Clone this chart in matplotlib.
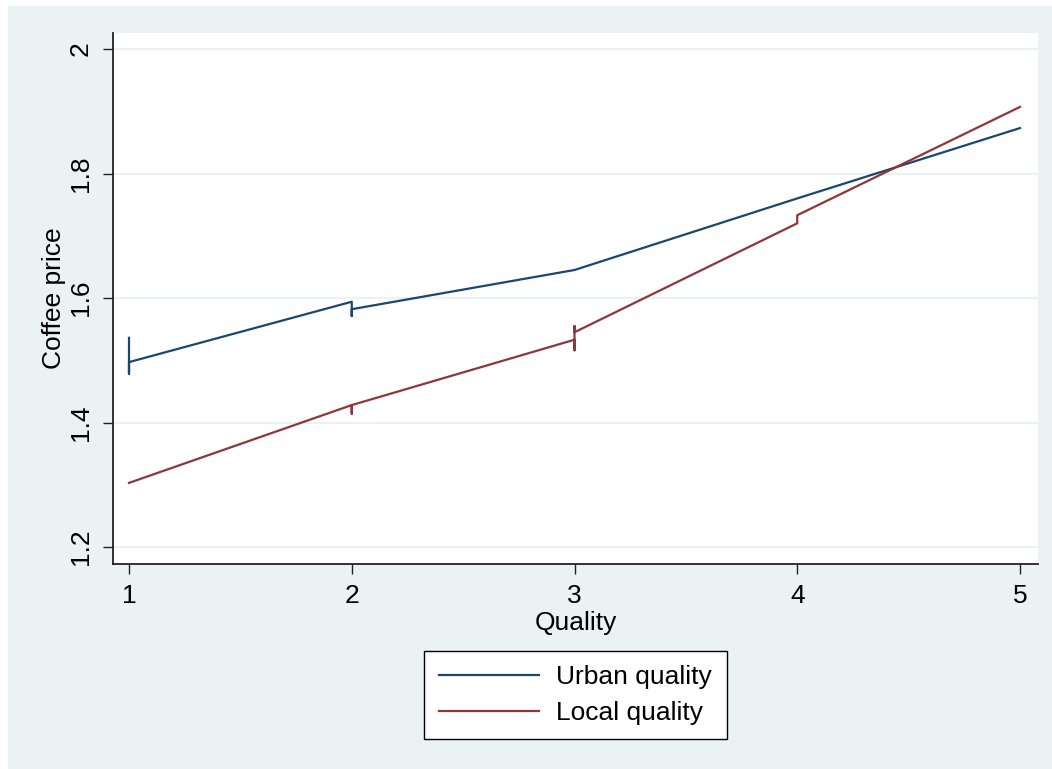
import matplotlib.pyplot as plt
from matplotlib.patches import Rectangle

plt.rcParams['font.family'] = ['Liberation Sans', 'DejaVu Sans']

## points in the order Stata connects them (several y values per quality level)
urbanX = [1, 1, 1, 2, 2, 2, 3, 4, 5]
urbanY = [1.536, 1.478, 1.497, 1.594, 1.571, 1.582, 1.645, 1.760, 1.873]
localX = [1, 2, 2, 2, 3, 3, 3, 3, 4, 4, 5]
localY = [1.303, 1.428, 1.414, 1.428, 1.533, 1.516, 1.555, 1.545, 1.720, 1.733, 1.907]

xTicks = [1, 2, 3, 4, 5]
yTicks = [1.2, 1.4, 1.6, 1.8, 2.0]
yLabels = ['1.2', '1.4', '1.6', '1.8', '2']

bg = '#eaf2f3'
navy = '#1a476f'
maroon = '#90353b'

fig = plt.figure(figsize=(10.52, 7.69), dpi=100)
fig.patch.set_facecolor('white')
fig.add_artist(Rectangle((8/1052, 1/769), 1 - 8/1052, 1 - 7/769,
                         transform=fig.transFigure, color=bg, zorder=-5))

ax = fig.add_axes([113/1052, 1 - 564/769, 925/1052, 531/769])
ax.set_zorder(1)
ax.set_facecolor('white')

for y in yTicks:
    ax.axhline(y, color=bg, linewidth=1.6, zorder=1)

ax.plot(urbanX, urbanY, color=navy, linewidth=1.6, label='Urban quality', zorder=3)
ax.plot(localX, localY, color=maroon, linewidth=1.6, label='Local quality', zorder=3)

ax.set_xlim(1 - 16/222.75, 5 + 18/222.75)
ax.set_ylim(1.2 - 17/622.5, 2 + 16/622.5)

ax.set_xticks(xTicks)
ax.set_yticks(yTicks)
ax.set_yticklabels(yLabels, rotation=90, va='center')
ax.tick_params(axis='both', labelsize=19, length=7.5, width=1, color='#222222', pad=7)

for s in ['top', 'right']:
    ax.spines[s].set_visible(False)
for s in ['left', 'bottom']:
    ax.spines[s].set_color('#222222')
    ax.spines[s].set_linewidth(1.3)

ax.set_xlabel('Quality', fontsize=19, labelpad=2)
ax.set_ylabel('Coffee price', fontsize=19, labelpad=2)

leg = ax.legend(loc='center', bbox_to_anchor=(575.5/1052, 1 - 695/769),
                bbox_transform=fig.transFigure, fontsize=19, frameon=True,
                fancybox=False, edgecolor='black', framealpha=1,
                handlelength=3.8, handletextpad=0.65, borderpad=0.55, labelspacing=0.45)
leg.get_frame().set_linewidth(1)

fig.savefig('out.png', dpi=100, facecolor=fig.get_facecolor())
